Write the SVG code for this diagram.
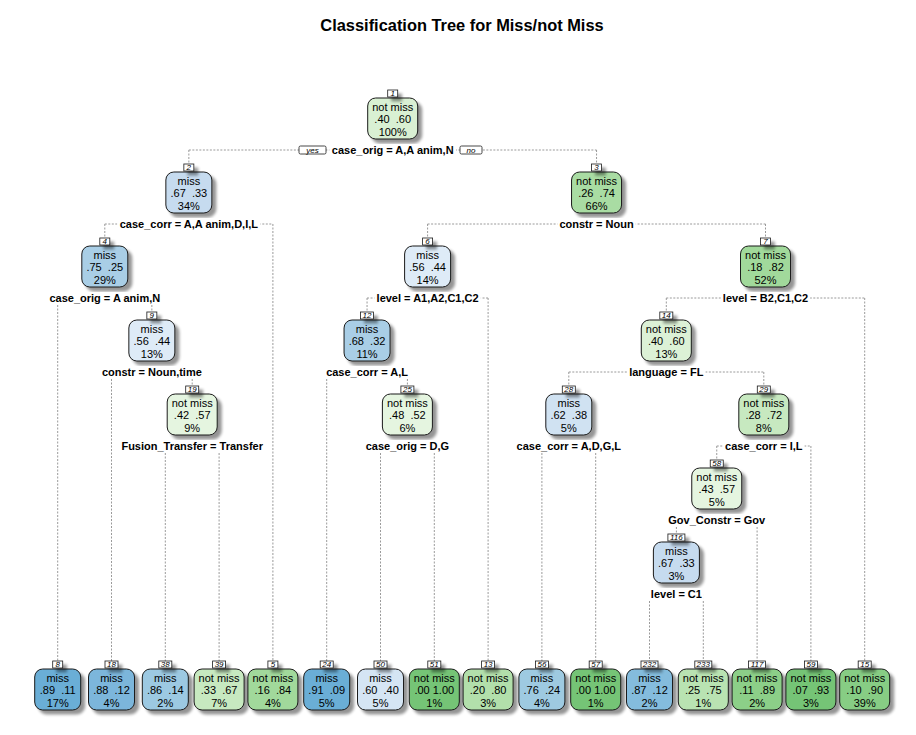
<svg xmlns="http://www.w3.org/2000/svg" width="916" height="735" viewBox="0 0 916 735">
<defs>
<filter id="sh" x="-40%" y="-40%" width="220%" height="240%">
<feGaussianBlur in="SourceAlpha" stdDeviation="1.6"/>
<feOffset dx="4" dy="4" result="b"/>
<feComponentTransfer><feFuncA type="linear" slope="0.42"/></feComponentTransfer>
<feMerge><feMergeNode/><feMergeNode in="SourceGraphic"/></feMerge>
</filter>
<style>
text{font-family:"Liberation Sans",Arial,sans-serif;fill:#000;}
.title{font-size:16.4px;font-weight:bold;text-anchor:middle;}
.box{stroke:#1a1a1a;stroke-width:1;filter:url(#sh);}
.num{fill:#fff;stroke:#1a1a1a;stroke-width:0.8;filter:url(#sh);}
.nt{font-size:8px;font-style:italic;text-anchor:middle;}
.t{font-size:11px;text-anchor:middle;white-space:pre;}
.sp{font-size:11px;font-weight:bold;text-anchor:middle;}
.bg{fill:#fff;}
.yn{fill:#fff;stroke:#1a1a1a;stroke-width:0.8;}
.ynt{font-size:8px;font-style:italic;text-anchor:middle;}
.con{fill:none;stroke:#9a9a9a;stroke-width:1;stroke-dasharray:2 1.5;}
</style>
</defs>
<rect width="916" height="735" fill="#fff"/>
<text class="title" x="462" y="31">Classification Tree for Miss/not Miss</text>

<g id="connectors" class="con">
<path d="M188.85,150 H596.55 M188.85,150 V164 M596.55,150 V164"/>
<path d="M104.8,224 H272.9 M104.8,224 V238 M272.9,224 V661"/>
<path d="M427.6,224 H765.5 M427.6,224 V238 M765.5,224 V238"/>
<path d="M57.7,298 H151.85 M57.7,298 V661 M151.85,298 V312"/>
<path d="M367.05,298 H488.1 M367.05,298 V312 M488.1,298 V661"/>
<path d="M666.3,298 H864.7 M666.3,298 V312 M864.7,298 V661"/>
<path d="M111.5,372 H192.2 M111.5,372 V661 M192.2,372 V386"/>
<path d="M326.7,372 H407.4 M326.7,372 V661 M407.4,372 V386"/>
<path d="M568.8,372 H763.8 M568.8,372 V386 M763.8,372 V386"/>
<path d="M165.3,446 H219.1 M165.3,446 V661 M219.1,446 V661"/>
<path d="M380.5,446 H434.3 M380.5,446 V661 M434.3,446 V661"/>
<path d="M541.9,446 H595.7 M541.9,446 V661 M595.7,446 V661"/>
<path d="M716.75,446 H810.9 M716.75,446 V460 M810.9,446 V661"/>
<path d="M676.4,520 H757.1 M676.4,520 V534 M757.1,520 V661"/>
<path d="M649.5,594 H703.3 M649.5,594 V661 M703.3,594 V661"/>
</g>

<g id="yes-no">
<rect class="yn" x="299" y="146" width="27" height="8" rx="1.5"/>
<text class="ynt" x="312.5" y="152.8">yes</text>
<rect class="yn" x="460" y="146" width="22" height="8" rx="1.5"/>
<text class="ynt" x="471" y="152.8">no</text>
</g>

<g id="node-1">
<rect class="box" x="367.7" y="98" width="50" height="41" rx="8" fill="#D9F0D3"/>
<rect class="num" x="387.7" y="90" width="10" height="7"/>
<text class="nt" x="392.7" y="96">1</text>
<text class="t" x="392.7" y="110.5">not miss</text>
<text class="t" x="392.7" y="123">.40  .60</text>
<text class="t" x="392.7" y="135.5">100%</text>
<rect class="bg" x="329.4" y="144" width="126.6" height="13"/>
<text class="sp" x="392.7" y="154">case_orig = A,A anim,N</text>
</g>

<g id="node-2">
<rect class="box" x="165.85" y="172" width="46" height="41" rx="8" fill="#C6DBEF"/>
<rect class="num" x="183.85" y="164" width="10" height="7"/>
<text class="nt" x="188.85" y="170">2</text>
<text class="t" x="188.85" y="184.5">miss</text>
<text class="t" x="188.85" y="197">.67  .33</text>
<text class="t" x="188.85" y="209.5">34%</text>
<rect class="bg" x="117.3" y="218" width="143.1" height="13"/>
<text class="sp" x="188.85" y="228">case_corr = A,A anim,D,I,L</text>
</g>

<g id="node-3">
<rect class="box" x="571.55" y="172" width="50" height="41" rx="8" fill="#A9DCA3"/>
<rect class="num" x="591.55" y="164" width="10" height="7"/>
<text class="nt" x="596.55" y="170">3</text>
<text class="t" x="596.55" y="184.5">not miss</text>
<text class="t" x="596.55" y="197">.26  .74</text>
<text class="t" x="596.55" y="209.5">66%</text>
<rect class="bg" x="557.4" y="218" width="78.3" height="13"/>
<text class="sp" x="596.55" y="228">constr = Noun</text>
</g>

<g id="node-4">
<rect class="box" x="81.8" y="246" width="46" height="41" rx="8" fill="#A9CEE6"/>
<rect class="num" x="99.8" y="238" width="10" height="7"/>
<text class="nt" x="104.8" y="244">4</text>
<text class="t" x="104.8" y="258.5">miss</text>
<text class="t" x="104.8" y="271">.75  .25</text>
<text class="t" x="104.8" y="283.5">29%</text>
<rect class="bg" x="47" y="292" width="115.6" height="13"/>
<text class="sp" x="104.8" y="302">case_orig = A anim,N</text>
</g>

<g id="node-6">
<rect class="box" x="404.6" y="246" width="46" height="41" rx="8" fill="#DEEBF7"/>
<rect class="num" x="422.6" y="238" width="10" height="7"/>
<text class="nt" x="427.6" y="244">6</text>
<text class="t" x="427.6" y="258.5">miss</text>
<text class="t" x="427.6" y="271">.56  .44</text>
<text class="t" x="427.6" y="283.5">14%</text>
<rect class="bg" x="374.4" y="292" width="106.4" height="13"/>
<text class="sp" x="427.6" y="302">level = A1,A2,C1,C2</text>
</g>

<g id="node-7">
<rect class="box" x="740.5" y="246" width="50" height="41" rx="8" fill="#A1D99B"/>
<rect class="num" x="760.5" y="238" width="10" height="7"/>
<text class="nt" x="765.5" y="244">7</text>
<text class="t" x="765.5" y="258.5">not miss</text>
<text class="t" x="765.5" y="271">.18  .82</text>
<text class="t" x="765.5" y="283.5">52%</text>
<rect class="bg" x="720.85" y="292" width="89.3" height="13"/>
<text class="sp" x="765.5" y="302">level = B2,C1,C2</text>
</g>

<g id="node-9">
<rect class="box" x="128.85" y="320" width="46" height="41" rx="8" fill="#DEEBF7"/>
<rect class="num" x="146.85" y="312" width="10" height="7"/>
<text class="nt" x="151.85" y="318">9</text>
<text class="t" x="151.85" y="332.5">miss</text>
<text class="t" x="151.85" y="345">.56  .44</text>
<text class="t" x="151.85" y="357.5">13%</text>
<rect class="bg" x="99.9" y="366" width="103.9" height="13"/>
<text class="sp" x="151.85" y="376">constr = Noun,time</text>
</g>

<g id="node-12">
<rect class="box" x="344.05" y="320" width="46" height="41" rx="8" fill="#A9CEE6"/>
<rect class="num" x="360.55" y="312" width="13" height="7"/>
<text class="nt" x="367.05" y="318">12</text>
<text class="t" x="367.05" y="332.5">miss</text>
<text class="t" x="367.05" y="345">.68  .32</text>
<text class="t" x="367.05" y="357.5">11%</text>
<rect class="bg" x="323.95" y="366" width="86.2" height="13"/>
<text class="sp" x="367.05" y="376">case_corr = A,L</text>
</g>

<g id="node-14">
<rect class="box" x="641.3" y="320" width="50" height="41" rx="8" fill="#DCF1D6"/>
<rect class="num" x="659.8" y="312" width="13" height="7"/>
<text class="nt" x="666.3" y="318">14</text>
<text class="t" x="666.3" y="332.5">not miss</text>
<text class="t" x="666.3" y="345">.40  .60</text>
<text class="t" x="666.3" y="357.5">13%</text>
<rect class="bg" x="627.15" y="366" width="78.3" height="13"/>
<text class="sp" x="666.3" y="376">language = FL</text>
</g>

<g id="node-19">
<rect class="box" x="167.2" y="394" width="50" height="41" rx="8" fill="#E5F5E0"/>
<rect class="num" x="185.7" y="386" width="13" height="7"/>
<text class="nt" x="192.2" y="392">19</text>
<text class="t" x="192.2" y="406.5">not miss</text>
<text class="t" x="192.2" y="419">.42  .57</text>
<text class="t" x="192.2" y="431.5">9%</text>
<rect class="bg" x="118.85" y="440" width="146.7" height="13"/>
<text class="sp" x="192.2" y="450">Fusion_Transfer = Transfer</text>
</g>

<g id="node-25">
<rect class="box" x="382.4" y="394" width="50" height="41" rx="8" fill="#E5F5E0"/>
<rect class="num" x="400.9" y="386" width="13" height="7"/>
<text class="nt" x="407.4" y="392">25</text>
<text class="t" x="407.4" y="406.5">not miss</text>
<text class="t" x="407.4" y="419">.48  .52</text>
<text class="t" x="407.4" y="431.5">6%</text>
<rect class="bg" x="363.65" y="440" width="87.5" height="13"/>
<text class="sp" x="407.4" y="450">case_orig = D,G</text>
</g>

<g id="node-28">
<rect class="box" x="545.8" y="394" width="46" height="41" rx="8" fill="#D0E2F2"/>
<rect class="num" x="562.3" y="386" width="13" height="7"/>
<text class="nt" x="568.8" y="392">28</text>
<text class="t" x="568.8" y="406.5">miss</text>
<text class="t" x="568.8" y="419">.62  .38</text>
<text class="t" x="568.8" y="431.5">5%</text>
<rect class="bg" x="514.35" y="440" width="108.9" height="13"/>
<text class="sp" x="568.8" y="450">case_corr = A,D,G,L</text>
</g>

<g id="node-29">
<rect class="box" x="738.8" y="394" width="50" height="41" rx="8" fill="#C7E9C0"/>
<rect class="num" x="757.3" y="386" width="13" height="7"/>
<text class="nt" x="763.8" y="392">29</text>
<text class="t" x="763.8" y="406.5">not miss</text>
<text class="t" x="763.8" y="419">.28  .72</text>
<text class="t" x="763.8" y="431.5">8%</text>
<rect class="bg" x="723.1" y="440" width="81.4" height="13"/>
<text class="sp" x="763.8" y="450">case_corr = I,L</text>
</g>

<g id="node-58">
<rect class="box" x="691.75" y="468" width="50" height="41" rx="8" fill="#E5F5E0"/>
<rect class="num" x="710.25" y="460" width="13" height="7"/>
<text class="nt" x="716.75" y="466">58</text>
<text class="t" x="716.75" y="480.5">not miss</text>
<text class="t" x="716.75" y="493">.43  .57</text>
<text class="t" x="716.75" y="505.5">5%</text>
<rect class="bg" x="666.3" y="514" width="100.9" height="13"/>
<text class="sp" x="716.75" y="524">Gov_Constr = Gov</text>
</g>

<g id="node-116">
<rect class="box" x="653.4" y="542" width="46" height="41" rx="8" fill="#C6DBEF"/>
<rect class="num" x="667.9" y="534" width="17" height="7"/>
<text class="nt" x="676.4" y="540">116</text>
<text class="t" x="676.4" y="554.5">miss</text>
<text class="t" x="676.4" y="567">.67  .33</text>
<text class="t" x="676.4" y="579.5">3%</text>
<rect class="bg" x="648.85" y="588" width="55.1" height="13"/>
<text class="sp" x="676.4" y="598">level = C1</text>
</g>

<g id="leaf-8">
<rect class="box" x="34.7" y="669" width="46" height="41" rx="8" fill="#6BAED6"/>
<rect class="num" x="52.7" y="661" width="10" height="7"/>
<text class="nt" x="57.7" y="667">8</text>
<text class="t" x="57.7" y="681.5">miss</text>
<text class="t" x="57.7" y="694">.89  .11</text>
<text class="t" x="57.7" y="706.5">17%</text>
</g>
<g id="leaf-18">
<rect class="box" x="88.5" y="669" width="46" height="41" rx="8" fill="#7BB6DB"/>
<rect class="num" x="105" y="661" width="13" height="7"/>
<text class="nt" x="111.5" y="667">18</text>
<text class="t" x="111.5" y="681.5">miss</text>
<text class="t" x="111.5" y="694">.88  .12</text>
<text class="t" x="111.5" y="706.5">4%</text>
</g>
<g id="leaf-38">
<rect class="box" x="142.3" y="669" width="46" height="41" rx="8" fill="#9CC9E2"/>
<rect class="num" x="158.8" y="661" width="13" height="7"/>
<text class="nt" x="165.3" y="667">38</text>
<text class="t" x="165.3" y="681.5">miss</text>
<text class="t" x="165.3" y="694">.86  .14</text>
<text class="t" x="165.3" y="706.5">2%</text>
</g>
<g id="leaf-39">
<rect class="box" x="194.1" y="669" width="50" height="41" rx="8" fill="#C7E9C0"/>
<rect class="num" x="212.6" y="661" width="13" height="7"/>
<text class="nt" x="219.1" y="667">39</text>
<text class="t" x="219.1" y="681.5">not miss</text>
<text class="t" x="219.1" y="694">.33  .67</text>
<text class="t" x="219.1" y="706.5">7%</text>
</g>
<g id="leaf-5">
<rect class="box" x="247.9" y="669" width="50" height="41" rx="8" fill="#A1D99B"/>
<rect class="num" x="267.9" y="661" width="10" height="7"/>
<text class="nt" x="272.9" y="667">5</text>
<text class="t" x="272.9" y="681.5">not miss</text>
<text class="t" x="272.9" y="694">.16  .84</text>
<text class="t" x="272.9" y="706.5">4%</text>
</g>
<g id="leaf-24">
<rect class="box" x="303.7" y="669" width="46" height="41" rx="8" fill="#6BAED6"/>
<rect class="num" x="320.2" y="661" width="13" height="7"/>
<text class="nt" x="326.7" y="667">24</text>
<text class="t" x="326.7" y="681.5">miss</text>
<text class="t" x="326.7" y="694">.91  .09</text>
<text class="t" x="326.7" y="706.5">5%</text>
</g>
<g id="leaf-50">
<rect class="box" x="357.5" y="669" width="46" height="41" rx="8" fill="#D5E5F4"/>
<rect class="num" x="374" y="661" width="13" height="7"/>
<text class="nt" x="380.5" y="667">50</text>
<text class="t" x="380.5" y="681.5">miss</text>
<text class="t" x="380.5" y="694">.60  .40</text>
<text class="t" x="380.5" y="706.5">5%</text>
</g>
<g id="leaf-51">
<rect class="box" x="409.3" y="669" width="50" height="41" rx="8" fill="#74C476"/>
<rect class="num" x="427.8" y="661" width="13" height="7"/>
<text class="nt" x="434.3" y="667">51</text>
<text class="t" x="434.3" y="681.5">not miss</text>
<text class="t" x="434.3" y="694">.00 1.00</text>
<text class="t" x="434.3" y="706.5">1%</text>
</g>
<g id="leaf-13">
<rect class="box" x="463.1" y="669" width="50" height="41" rx="8" fill="#B2DFAB"/>
<rect class="num" x="481.6" y="661" width="13" height="7"/>
<text class="nt" x="488.1" y="667">13</text>
<text class="t" x="488.1" y="681.5">not miss</text>
<text class="t" x="488.1" y="694">.20  .80</text>
<text class="t" x="488.1" y="706.5">3%</text>
</g>
<g id="leaf-56">
<rect class="box" x="518.9" y="669" width="46" height="41" rx="8" fill="#9ECAE1"/>
<rect class="num" x="535.4" y="661" width="13" height="7"/>
<text class="nt" x="541.9" y="667">56</text>
<text class="t" x="541.9" y="681.5">miss</text>
<text class="t" x="541.9" y="694">.76  .24</text>
<text class="t" x="541.9" y="706.5">4%</text>
</g>
<g id="leaf-57">
<rect class="box" x="570.7" y="669" width="50" height="41" rx="8" fill="#74C476"/>
<rect class="num" x="589.2" y="661" width="13" height="7"/>
<text class="nt" x="595.7" y="667">57</text>
<text class="t" x="595.7" y="681.5">not miss</text>
<text class="t" x="595.7" y="694">.00 1.00</text>
<text class="t" x="595.7" y="706.5">1%</text>
</g>
<g id="leaf-232">
<rect class="box" x="626.5" y="669" width="46" height="41" rx="8" fill="#84BCDD"/>
<rect class="num" x="641" y="661" width="17" height="7"/>
<text class="nt" x="649.5" y="667">232</text>
<text class="t" x="649.5" y="681.5">miss</text>
<text class="t" x="649.5" y="694">.87  .12</text>
<text class="t" x="649.5" y="706.5">2%</text>
</g>
<g id="leaf-233">
<rect class="box" x="678.3" y="669" width="50" height="41" rx="8" fill="#B9E3B2"/>
<rect class="num" x="694.8" y="661" width="17" height="7"/>
<text class="nt" x="703.3" y="667">233</text>
<text class="t" x="703.3" y="681.5">not miss</text>
<text class="t" x="703.3" y="694">.25  .75</text>
<text class="t" x="703.3" y="706.5">1%</text>
</g>
<g id="leaf-117">
<rect class="box" x="732.1" y="669" width="50" height="41" rx="8" fill="#8CCF88"/>
<rect class="num" x="748.6" y="661" width="17" height="7"/>
<text class="nt" x="757.1" y="667">117</text>
<text class="t" x="757.1" y="681.5">not miss</text>
<text class="t" x="757.1" y="694">.11  .89</text>
<text class="t" x="757.1" y="706.5">2%</text>
</g>
<g id="leaf-59">
<rect class="box" x="785.9" y="669" width="50" height="41" rx="8" fill="#74C476"/>
<rect class="num" x="804.4" y="661" width="13" height="7"/>
<text class="nt" x="810.9" y="667">59</text>
<text class="t" x="810.9" y="681.5">not miss</text>
<text class="t" x="810.9" y="694">.07  .93</text>
<text class="t" x="810.9" y="706.5">3%</text>
</g>
<g id="leaf-15">
<rect class="box" x="839.7" y="669" width="50" height="41" rx="8" fill="#87CD84"/>
<rect class="num" x="858.2" y="661" width="13" height="7"/>
<text class="nt" x="864.7" y="667">15</text>
<text class="t" x="864.7" y="681.5">not miss</text>
<text class="t" x="864.7" y="694">.10  .90</text>
<text class="t" x="864.7" y="706.5">39%</text>
</g>
</svg>
